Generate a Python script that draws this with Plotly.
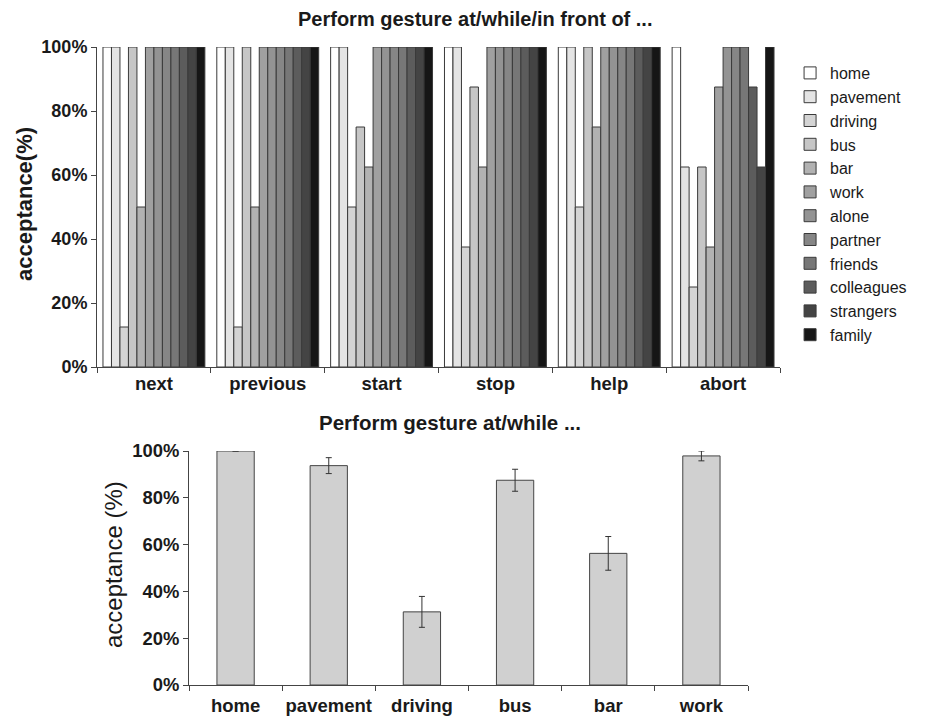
import plotly.graph_objects as go

# ---- data ----
gestures = ["next", "previous", "start", "stop", "help", "abort"]
contexts = ["home", "pavement", "driving", "bus", "bar", "work",
            "alone", "partner", "friends", "colleagues", "strangers", "family"]
acc = {
    "home":       [100, 100, 100, 100, 100, 100],
    "pavement":   [100, 100, 100, 100, 100, 62.5],
    "driving":    [12.5, 12.5, 50, 37.5, 50, 25],
    "bus":        [100, 100, 75, 87.5, 100, 62.5],
    "bar":        [50, 50, 62.5, 62.5, 75, 37.5],
    "work":       [100, 100, 100, 100, 100, 87.5],
    "alone":      [100, 100, 100, 100, 100, 100],
    "partner":    [100, 100, 100, 100, 100, 100],
    "friends":    [100, 100, 100, 100, 100, 100],
    "colleagues": [100, 100, 100, 100, 100, 87.5],
    "strangers":  [100, 100, 100, 100, 100, 62.5],
    "family":     [100, 100, 100, 100, 100, 100],
}
colors = ["#ffffff", "#e4e4e4", "#d4d4d4", "#c6c6c6", "#b2b2b2", "#a0a0a0",
          "#939393", "#868686", "#777777", "#5c5c5c", "#444444", "#161616"]

places = ["home", "pavement", "driving", "bus", "bar", "work"]
place_mean = [100, 93.75, 31.25, 87.5, 56.25, 97.9]
place_err = [0, 3.4, 6.6, 4.7, 7.2, 2.1]

FONT = "Liberation Sans, Arial, sans-serif"
W, H = 935, 716

fig = go.Figure()
for c, col in zip(contexts, colors):
    fig.add_trace(go.Bar(
        x=gestures, y=acc[c], name=c, marker=dict(color=col, line=dict(color="#3a3a3a", width=1)),
        xaxis="x", yaxis="y"))

fig.add_trace(go.Bar(
    x=places, y=place_mean, showlegend=False,
    marker=dict(color="#d0d0d0", line=dict(color="#444444", width=1)),
    error_y=dict(type="data", array=place_err, color="#333333", thickness=1, width=3),
    xaxis="x2", yaxis="y2", width=0.4))

axis_common = dict(showgrid=False, zeroline=False, showline=True, linecolor="#444444", linewidth=1,
                   ticks="outside", tickcolor="#444444", ticklen=5, fixedrange=True, automargin=False)

fig.update_layout(
    width=W, height=H, margin=dict(l=0, r=0, t=0, b=0),
    paper_bgcolor="white", plot_bgcolor="white",
    font=dict(family=FONT, color="#1a1a1a"),
    barmode="group", bargap=0.105, bargroupgap=0,
    xaxis=dict(domain=[97 / W, 780 / W], tickson="boundaries", tickangle=0,
               tickfont=dict(size=18.5, weight="bold"), **axis_common),
    yaxis=dict(domain=[1 - 367 / H, 1 - 47 / H], range=[0, 100], dtick=20, ticksuffix="%",
               tickfont=dict(size=18, weight="bold"), **axis_common),
    xaxis2=dict(domain=[189 / W, 748 / W], anchor="y2", tickson="boundaries", tickangle=0,
                ticklabelstandoff=4,
                tickfont=dict(size=18.5, weight="bold"), **axis_common),
    yaxis2=dict(domain=[1 - 685 / H, 1 - 451 / H], anchor="x2", range=[0, 100], dtick=20, ticksuffix="%",
                tickfont=dict(size=18.4, weight="bold"), **axis_common),
    legend=dict(x=0.845, y=1 - 56 / H, xanchor="left", yanchor="top", font=dict(size=16),
                tracegroupgap=0, itemwidth=30, bgcolor="rgba(0,0,0,0)"),
    annotations=[
        dict(text="<b>Perform gesture at/while/in front of ...</b>", x=475 / W, y=1 - 19 / H,
             xref="paper", yref="paper", showarrow=False, font=dict(size=20), xanchor="center", yanchor="middle"),
        dict(text="<b>Perform gesture at/while ...</b>", x=450 / W, y=1 - 422 / H,
             xref="paper", yref="paper", showarrow=False, font=dict(size=20.5), xanchor="center", yanchor="middle"),
        dict(text="<b>acceptance(%)</b>", x=25 / W, y=1 - 204 / H, textangle=-90,
             xref="paper", yref="paper", showarrow=False, font=dict(size=22), xanchor="center", yanchor="middle"),
        dict(text="acceptance (%)", x=113 / W, y=1 - 565 / H, textangle=-90,
             xref="paper", yref="paper", showarrow=False, font=dict(size=24), xanchor="center", yanchor="middle"),
    ],
)

fig.write_html("out.html")
